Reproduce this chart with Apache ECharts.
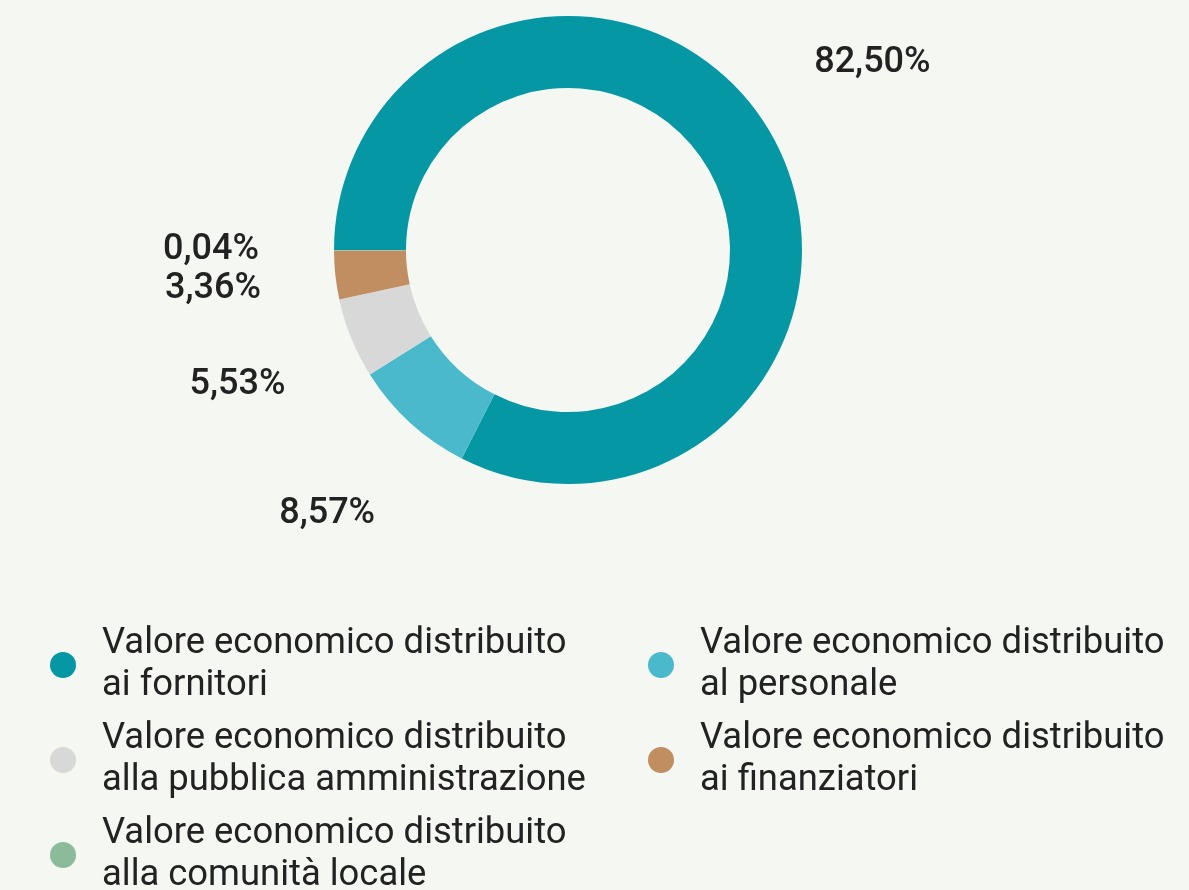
<!DOCTYPE html>
<html>
<head>
<meta charset="utf-8">
<script src="https://cdn.jsdelivr.net/npm/echarts@6/dist/echarts.min.js"></script>
<style>
  html, body { margin: 0; padding: 0; background: #f5f7f3; }
  #chart { width: 1189px; height: 890px; }
</style>
</head>
<body>
<div id="chart"></div>
<script>
// categories (legend text, line break as in the original)
var categories = [
  'Valore economico distribuito\nai fornitori',
  'Valore economico distribuito\nal personale',
  'Valore economico distribuito\nalla pubblica amministrazione',
  'Valore economico distribuito\nai finanziatori',
  'Valore economico distribuito\nalla comunità locale'
];
// percentages
var values = [82.50, 8.57, 5.53, 3.36, 0.04];
var colors = ['#0697a5', '#49b9cb', '#d8d8d8', '#c08e61', '#8bbb9a'];

var leftLegend = [categories[0], categories[2], categories[4]];
var rightLegend = [categories[1], categories[3]];

var chart = echarts.init(document.getElementById('chart'));

var pieData = categories.map(function (name, i) {
  return { name: name, value: values[i], itemStyle: { color: colors[i] } };
});

function fmt(p) {
  return p.value.toFixed(2).replace('.', ',') + '%';
}

var legendBase = {
  orient: 'vertical',
  top: 623,
  height: 320,
  padding: 0,
  itemGap: 11,
  itemWidth: 26,
  itemHeight: 26,
  icon: 'circle',
  selectedMode: false,
  textStyle: {
    fontFamily: 'Roboto',
    fontSize: 36.4,
    lineHeight: 42,
    color: '#222222',
    padding: [0, 0, 0, 21]
  }
};

var option = {
  backgroundColor: '#f5f7f3',
  animation: false,
  color: colors,
  legend: [
    Object.assign({}, legendBase, { left: 50, data: leftLegend }),
    Object.assign({}, legendBase, { left: 648, data: rightLegend })
  ],
  series: [
    {
      type: 'pie',
      center: [568, 250],
      radius: [162, 234],
      startAngle: 180,
      clockwise: true,
      avoidLabelOverlap: false,
      emphasis: { scale: false },
      label: { show: false },
      labelLine: { show: false },
      data: pieData
    },
    {
      // ring outside the donut only carrying the percentage labels
      type: 'pie',
      center: [568, 250],
      radius: [348, 360],
      startAngle: 180,
      clockwise: true,
      silent: true,
      emphasis: { disabled: true },
      itemStyle: { color: 'rgba(0,0,0,0)' },
      label: {
        show: true,
        position: 'inside',
        formatter: fmt,
        fontFamily: 'Roboto',
        fontWeight: 500,
        fontSize: 36,
        lineHeight: 32,
        color: '#222222'
      },
      labelLayout: { moveOverlap: 'shiftY' },
      labelLine: { show: false },
      data: categories.map(function (name, i) {
        return { name: name, value: values[i] };
      })
    }
  ]
};

chart.setOption(option);
</script>
</body>
</html>
